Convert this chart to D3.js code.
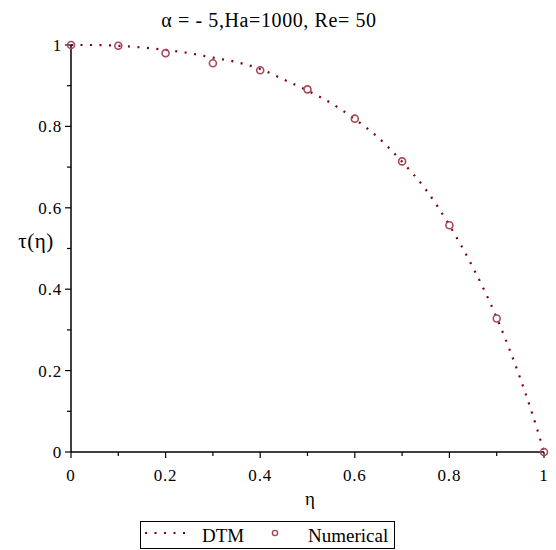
<!DOCTYPE html>
<html><head><meta charset="utf-8">
<script src="https://cdn.jsdelivr.net/npm/d3@7"></script>
<style>body{margin:0;background:#fff}svg{display:block}text{font-family:"Liberation Serif","Times New Roman",serif}</style>
</head><body>
<svg id="c" width="556" height="550"></svg>
<script>
const dtmEta = [0,0.05,0.1,0.15,0.2,0.25,0.3,0.35,0.4,0.45,0.5,0.55,0.6,0.65,0.7,0.75,0.8,0.85,0.9,0.95,0.975,1.0];
const dtmTau = [1,1.0,0.998,0.994,0.988,0.98,0.969,0.958,0.941,0.915,0.888,0.857,0.818,0.772,0.713,0.645,0.557,0.453,0.330,0.18,0.095,0];
const numEta = [0,0.1,0.2,0.3,0.4,0.5,0.6,0.7,0.8,0.9,1.0];
const numTau = [1,0.998,0.980,0.955,0.938,0.891,0.819,0.714,0.557,0.328,0];
const xTicks = [0,0.2,0.4,0.6,0.8,1];
const yTicks = [0,0.2,0.4,0.6,0.8,1];
const minorTicks = [0.1,0.3,0.5,0.7,0.9];

const svg = d3.select("#c");
const x = d3.scaleLinear().domain([0,1]).range([71,544]);
const y = d3.scaleLinear().domain([0,1]).range([452,45]);
const red = "#800010";

svg.append("text").attr("x",269).attr("y",27).attr("text-anchor","middle").attr("font-size",20).attr("letter-spacing",0.6).text("α = - 5,Ha=1000, Re= 50");

// axes
const xa = svg.append("g").attr("transform","translate(0,452)");
xa.append("line").attr("x1",x(0)).attr("x2",x(1)).attr("stroke","#000").attr("stroke-width",1.5);
xa.selectAll(".mj").data(xTicks).join("line").attr("x1",d=>x(d)).attr("x2",d=>x(d)).attr("y1",0).attr("y2",6).attr("stroke","#000").attr("stroke-width",1.2);
xa.selectAll(".mn").data(minorTicks).join("line").attr("x1",d=>x(d)).attr("x2",d=>x(d)).attr("y1",0).attr("y2",4).attr("stroke","#000").attr("stroke-width",1.2);
xa.selectAll("text").data(xTicks).join("text").attr("x",d=>x(d)).attr("y",29).attr("text-anchor","middle").attr("font-size",17).attr("letter-spacing",0.8).text(d=>d3.format("~g")(d));

const ya = svg.append("g").attr("transform","translate(71,0)");
ya.append("line").attr("y1",y(0)).attr("y2",y(1)).attr("stroke","#000").attr("stroke-width",1.5);
ya.selectAll(".mj").data(yTicks).join("line").attr("y1",d=>y(d)).attr("y2",d=>y(d)).attr("x1",0).attr("x2",-6).attr("stroke","#000").attr("stroke-width",1.2);
ya.selectAll(".mn").data(minorTicks).join("line").attr("y1",d=>y(d)).attr("y2",d=>y(d)).attr("x1",0).attr("x2",-4).attr("stroke","#000").attr("stroke-width",1.2);
ya.selectAll("text").data(yTicks).join("text").attr("x",-9).attr("y",d=>y(d)+6).attr("text-anchor","end").attr("font-size",17).attr("letter-spacing",0.8).text(d=>d3.format("~g")(d));

svg.append("text").attr("x",310).attr("y",505).attr("text-anchor","middle").attr("font-size",19).text("η");
svg.append("text").attr("x",36).attr("y",248).attr("text-anchor","middle").attr("font-size",21).attr("letter-spacing",0.5).text("τ(η)");

// DTM
const dtm = dtmEta.map((e,i)=>[e,dtmTau[i]]);
svg.append("path").datum(dtm).attr("d",d3.line().x(d=>x(d[0])).y(d=>y(d[1])).curve(d3.curveMonotoneX))
  .attr("fill","none").attr("stroke",red).attr("stroke-width",2.2).attr("stroke-dasharray","2 7.5");

// Numerical
svg.selectAll(".pt").data(numEta.map((e,i)=>[e,numTau[i]])).join("circle")
  .attr("cx",d=>x(d[0])).attr("cy",d=>y(d[1])).attr("r",3.5)
  .attr("fill","none").attr("stroke","#a84858").attr("stroke-width",1.6);

// legend
const lg = svg.append("g");
lg.append("rect").attr("x",140.5).attr("y",521.5).attr("width",254).attr("height",27).attr("fill","#fff").attr("stroke","#000").attr("stroke-width",1);
lg.append("line").attr("x1",145).attr("x2",190).attr("y1",533).attr("y2",533).attr("stroke",red).attr("stroke-width",2.2).attr("stroke-dasharray","2 7.5");
lg.append("text").attr("x",202).attr("y",542).attr("font-size",19).text("DTM");
lg.append("circle").attr("cx",275).attr("cy",533).attr("r",2.6).attr("fill","none").attr("stroke","#a84858").attr("stroke-width",1.4);
lg.append("text").attr("x",308).attr("y",542).attr("font-size",19).text("Numerical");
</script>
</body></html>
